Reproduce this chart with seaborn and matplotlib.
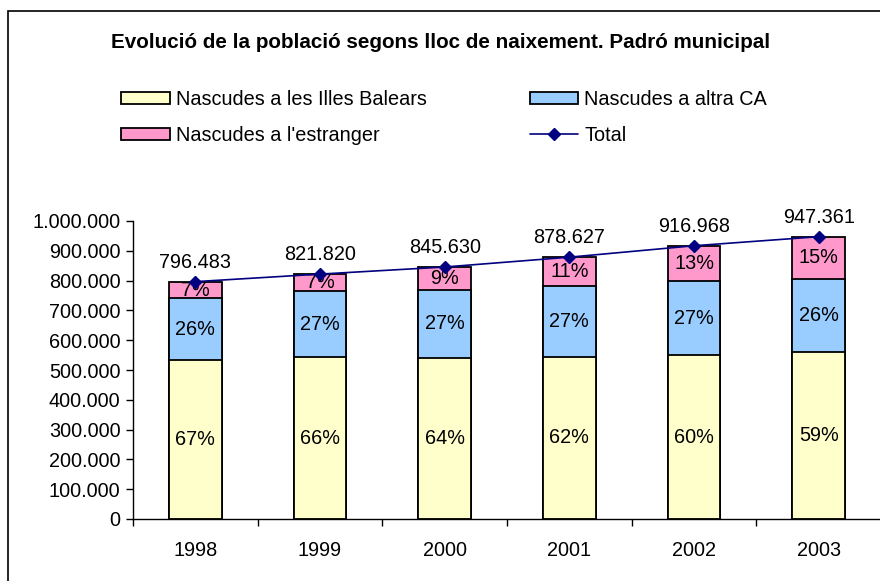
import numpy as np
import pandas as pd
import matplotlib
matplotlib.use("Agg")
import matplotlib.pyplot as plt
import seaborn as sns
from matplotlib.patches import Patch, Rectangle
from matplotlib.lines import Line2D
from matplotlib.ticker import FuncFormatter, FixedLocator

years = ["1998", "1999", "2000", "2001", "2002", "2003"]
balears = [533000, 542000, 541000, 545000, 550000, 559000]
altra_ca = [207000, 222000, 228000, 237000, 248000, 246000]
estranger = [56483, 57820, 76630, 96627, 118968, 142361]
totals = [796483, 821820, 845630, 878627, 916968, 947361]
pct_balears = ["67%", "66%", "64%", "62%", "60%", "59%"]
pct_altra = ["26%", "27%", "27%", "27%", "27%", "26%"]
pct_estr = ["7%", "7%", "9%", "11%", "13%", "15%"]
yticks = [0, 100000, 200000, 300000, 400000, 500000, 600000, 700000, 800000, 900000, 1000000]

sns.set_style("white")
plt.rcParams["font.family"] = ["Liberation Sans", "DejaVu Sans"]
plt.rcParams["text.color"] = "black"
plt.rcParams["xtick.color"] = "black"
plt.rcParams["ytick.color"] = "black"

df = pd.DataFrame({"year": years, "b": balears, "a": altra_ca, "e": estranger})
df["ba"] = df["b"] + df["a"]
df["bae"] = df["ba"] + df["e"]

fig = plt.figure(figsize=(8.8, 5.81), dpi=100)
ax = fig.add_axes([133 / 880, 62 / 581, 748 / 880, 298 / 581])

c_yel, c_blue, c_pink, c_line = "#FFFFCC", "#99CCFF", "#FF99CC", "#000080"
bw = 0.42
sns.barplot(data=df, x="year", y="bae", color=c_pink, width=bw, edgecolor="black",
            linewidth=1.3, saturation=1, ax=ax)
sns.barplot(data=df, x="year", y="ba", color=c_blue, width=bw, edgecolor="black",
            linewidth=1.3, saturation=1, ax=ax)
sns.barplot(data=df, x="year", y="b", color=c_yel, width=bw, edgecolor="black",
            linewidth=1.3, saturation=1, ax=ax)

xs = np.arange(len(years))
ax.plot(xs, totals, color=c_line, lw=1.2, marker="D", markersize=6, zorder=5)

fs = 14.3
for i in range(len(years)):
    ax.text(xs[i], df["b"][i] / 2, pct_balears[i], ha="center", va="center", fontsize=fs)
    ax.text(xs[i], df["b"][i] + df["a"][i] / 2, pct_altra[i], ha="center", va="center", fontsize=fs)
    ax.text(xs[i], df["ba"][i] + df["e"][i] / 2, pct_estr[i], ha="center", va="center", fontsize=fs)
    ax.text(xs[i], totals[i] + 33000, f"{totals[i]:,}".replace(",", "."), ha="center",
            va="bottom", fontsize=fs)

ax.set_xlim(-0.5, 5.5)
ax.set_ylim(0, 1000000)
ax.yaxis.set_major_locator(FixedLocator(yticks))
ax.yaxis.set_major_formatter(FuncFormatter(lambda v, p: f"{int(v):,}".replace(",", ".")))
ax.set_xticks(xs)
ax.set_xticklabels(years)
ax.set_xticks(np.arange(-0.5, 6.0, 1.0), minor=True)
ax.tick_params(axis="x", which="major", length=0, labelsize=14.3, pad=16)
ax.tick_params(axis="x", which="minor", length=5, width=1, direction="out", color="black", bottom=True)
ax.tick_params(axis="y", length=5, width=1, direction="out", color="black", left=True, labelsize=14.3, pad=4)
ax.set_xlabel("")
ax.set_ylabel("")
for s in ["top", "right"]:
    ax.spines[s].set_visible(False)
for s in ["left", "bottom"]:
    ax.spines[s].set_color("black")
    ax.spines[s].set_linewidth(1)

fig.text(441 / 880, 1 - 42 / 581, "Evolució de la població segons lloc de naixement. Padró municipal",
         ha="center", va="center", fontsize=14.9, fontweight="bold")

handles = [
    Patch(facecolor=c_yel, edgecolor="black", linewidth=1.3, label="Nascudes a les Illes Balears"),
    Patch(facecolor=c_pink, edgecolor="black", linewidth=1.3, label="Nascudes a l'estranger"),
    Patch(facecolor=c_blue, edgecolor="black", linewidth=1.3, label="Nascudes a altra CA"),
    Line2D([0], [0], color=c_line, lw=1.2, marker="D", markersize=6, label="Total"),
]
fig.legend(handles=handles, ncol=2, loc="upper left", bbox_to_anchor=(121 / 880, 1 - 90 / 581),
           frameon=False, fontsize=14.3, handlelength=2.45, handleheight=0.6,
           columnspacing=5.2, labelspacing=0.85, handletextpad=0.3, borderaxespad=0, borderpad=0)

fig.patches.append(Rectangle((8 / 880, -0.1), 1.2, 1.1 - 11 / 581, transform=fig.transFigure,
                             fill=False, edgecolor="black", linewidth=1.2))

fig.savefig("out.png", dpi=100)
